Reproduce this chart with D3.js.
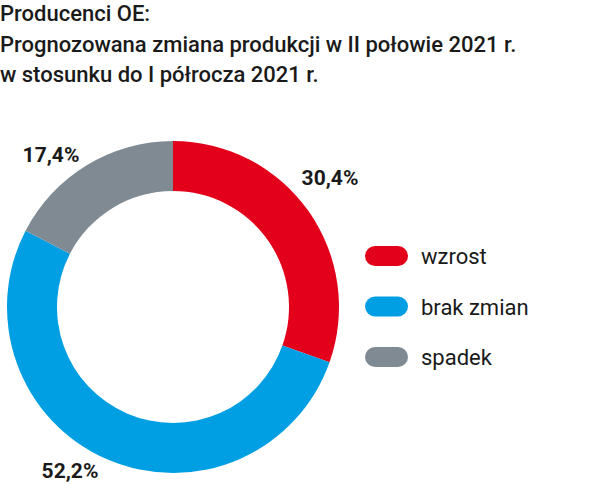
<!DOCTYPE html>
<html>
<head>
<meta charset="utf-8">
<script src="https://cdn.jsdelivr.net/npm/d3@7"></script>
<style>
  body { margin: 0; background: #fff; }
  svg text { font-family: Roboto, "Open Sans", sans-serif; fill: #1a1a1a; }
</style>
</head>
<body>
<div id="chart"></div>
<script>
// data
const categories = ['wzrost', 'brak zmian', 'spadek'];
const values = [30.4, 52.2, 17.4];
const valueLabels = ['30,4%', '52,2%', '17,4%'];
const colors = ['#e2001a', '#009fe3', '#7f8a93'];
const titleLines = [
  'Producenci OE:',
  'Prognozowana zmiana produkcji w II połowie 2021 r.',
  'w stosunku do I półrocza 2021 r.'
];

const width = 598, height = 484;
const svg = d3.select('#chart').append('svg')
  .attr('width', width)
  .attr('height', height);

// title
svg.selectAll('.title')
  .data(titleLines)
  .enter()
  .append('text')
  .attr('class', 'title')
  .attr('x', 0)
  .attr('y', (d, i) => i === 0 ? 21 : 22 + i * 30)
  .attr('font-size', '22px')
  .attr('font-weight', 500)
  .text(d => d);

// donut
const cx = 173, cy = 307;
const outerR = 166, innerR = 116;
const pie = d3.pie().sort(null).value(d => d);
const arc = d3.arc().innerRadius(innerR).outerRadius(outerR);
const arcs = pie(values);

const g = svg.append('g').attr('transform', `translate(${cx},${cy})`);
g.selectAll('path')
  .data(arcs)
  .enter()
  .append('path')
  .attr('d', arc)
  .attr('fill', (d, i) => colors[i]);

// value labels outside the ring
const labelPos = [
  { dx: 157, dy: -122 },  // 30,4%
  { dx: -103, dy: 171 },  // 52,2%
  { dx: -122, dy: -145 }  // 17,4%
];
g.selectAll('.val')
  .data(arcs)
  .enter()
  .append('text')
  .attr('class', 'val')
  .attr('x', (d, i) => labelPos[i].dx)
  .attr('y', (d, i) => labelPos[i].dy)
  .attr('text-anchor', 'middle')
  .attr('font-size', '21px')
  .attr('font-weight', 'bold')
  .text((d, i) => valueLabels[i]);

// legend
const legendY = d3.scalePoint().domain(categories).range([256, 357]);
const legend = svg.selectAll('.legend')
  .data(categories)
  .enter()
  .append('g')
  .attr('class', 'legend')
  .attr('transform', d => `translate(365,${legendY(d)})`);

legend.append('rect')
  .attr('x', 0)
  .attr('y', -10)
  .attr('width', 43)
  .attr('height', 20)
  .attr('rx', 10)
  .attr('fill', (d, i) => colors[i]);

legend.append('text')
  .attr('x', 56)
  .attr('y', 8)
  .attr('font-size', '22px')
  .text(d => d);
</script>
</body>
</html>
